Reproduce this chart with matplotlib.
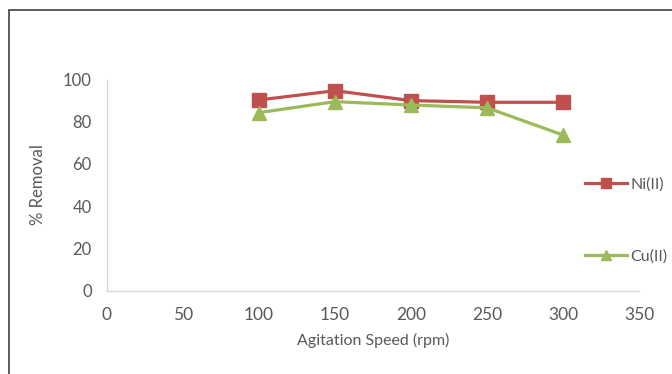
import matplotlib
matplotlib.use("Agg")
import matplotlib.pyplot as plt
from matplotlib.patches import Rectangle

# Datos
velocidad = [100, 150, 200, 250, 300]
ni_removal = [90.3, 94.7, 90.0, 89.2, 89.2]
cu_removal = [84.3, 89.5, 87.9, 86.6, 73.7]
xticks = [0, 50, 100, 150, 200, 250, 300, 350]
yticks = [0, 20, 40, 60, 80, 100]

C = {"ni": "#C0504D", "cu": "#9BBB59", "texto": "#595959", "eje": "#D9D9D9"}

plt.rcParams["font.family"] = ["Lato", "DejaVu Sans"]

fig = plt.figure(figsize=(6.72, 3.74), dpi=100)
ax = fig.add_axes([107 / 672, 1 - 290.5 / 374, 532 / 672, 211 / 374])

ax.plot(velocidad, ni_removal, color=C["ni"], lw=2.3, marker="s", ms=9.5,
        label="Ni(II)")
ax.plot(velocidad, cu_removal, color=C["cu"], lw=2.3, marker="^", ms=10,
        label="Cu(II)")

ax.set_xlim(0, 350)
ax.set_ylim(0, 100)
ax.set_xticks(xticks)
ax.set_yticks(yticks)
ax.tick_params(length=0, labelsize=12, colors=C["texto"])
ax.tick_params(axis="y", pad=11)
ax.tick_params(axis="x", pad=12)
for lab in ax.get_xticklabels():
    lab.set_fontsize(12.5)
for s in ["top", "right"]:
    ax.spines[s].set_visible(False)
for s in ["left", "bottom"]:
    ax.spines[s].set_color(C["eje"])
    ax.spines[s].set_linewidth(1)

ax.set_xlabel("Agitation Speed (rpm)", fontsize=11.5, color=C["texto"], labelpad=7)
ax.set_ylabel("% Removal", fontsize=12, color=C["texto"], labelpad=12)

fig.legend(loc="center left", bbox_to_anchor=(585 / 672, 1 - 220.5 / 374),
           frameon=False, fontsize=11.5, labelcolor=C["texto"],
           labelspacing=3.6, handlelength=2.6, handletextpad=0.25,
           borderpad=0, borderaxespad=0, markerscale=0.7)

# marco exterior
fig.patches.append(Rectangle((9 / 672, -0.1), 1.2, 1.1 - 10.5 / 374,
                             transform=fig.transFigure, fill=False,
                             edgecolor="#3F3F3F", lw=1.2))

fig.savefig("out.png", dpi=100)
plt.close(fig)
